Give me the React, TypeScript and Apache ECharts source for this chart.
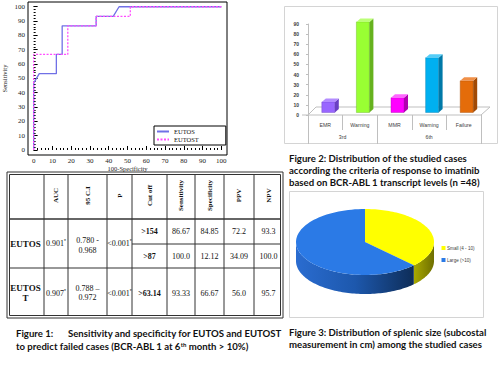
import React, { useEffect, useRef } from "react";
import * as echarts from "echarts";

// ---------- ROC curve data (100-Specificity, Sensitivity) ----------
const rocEutosX = [0, 0, 3.0, 12.1, 12.1, 15.2, 15.2, 33.3, 33.3, 42.4, 45.5, 100];
const rocEutosY = [0, 46.7, 53.3, 53.3, 66.7, 66.7, 86.7, 86.7, 93.3, 93.3, 100, 100];
const rocEutostX = [0, 0, 18.2, 18.2, 33.3, 33.3, 51.5, 51.5, 100];
const rocEutostY = [0, 66.7, 66.7, 86.7, 86.7, 93.3, 93.3, 100, 100];
const rocTickLabels = [0, 10, 20, 30, 40, 50, 60, 70, 80, 90, 100];
const rocSeriesNames = ["EUTOS", "EUTOST"];

// ---------- Bar chart data ----------
const barCategories = ["EMR", "Warning", "MMR", "Warning", "Failure"];
const barGroups = ["3rd", "6th"];
const barGroupSizes = [2, 3];
const barValues = [10.4, 89.6, 14.6, 54.2, 31.3];
const barFront = ["#9966ff", "#99ff33", "#ff00ff", "#00b0f0", "#e46c0a"];
const barSide = ["#6a3fc4", "#66b21e", "#b000b0", "#0079a8", "#a14a05"];
const barTop = ["#b38cff", "#bbff77", "#ff66ff", "#55cdf7", "#f09048"];

// ---------- Pie data ----------
const pieNames = ["Small (4 - 10)", "Large (>10)"];
const pieValues = [18, 30];
const pieTopColors = ["#ffff00", "#2b7ae6"];
const pieSideColors = [["#a9a900", "#6f6f00"], ["#2a6cd0", "#1d58ad", "#0e2d58"]];

// ---------- Table data ----------
const tableHeaders = ["", "AUC", "95 C.I", "P", "Cut off", "Sensitivity", "Specificity", "PPV", "NPV"];
const tableRowNames = ["EUTOS", "EUTOS\nT"];
const tableAuc = ["0.901", "0.907"];
const tableCi = ["0.780 -\n0.968", "0.788 –\n0.972"];
const tableP = ["<0.001", "<0.001"];
const eutosCutoffs = [">154", ">87"];
const eutosSens = ["86.67", "100.0"];
const eutosSpec = ["84.85", "12.12"];
const eutosPpv = ["72.2", "34.09"];
const eutosNpv = ["93.3", "100.0"];
const eutostCells = [">63.14", "93.33", "66.67", "56.0", "95.7"];

const serif = "'Liberation Serif', 'Times New Roman', serif";
const sans = "'Liberation Sans', Arial, sans-serif";
const capFont = "Lato, 'Open Sans', sans-serif";

function buildTable() {
  const colX = [7, 44, 68, 107, 132, 167, 195, 224, 254, 283];
  const rowY = [172, 219, 244, 268, 318];
  const line = "#333";
  const els: any[] = [];
  els.push({ type: "rect", shape: { x: 7, y: 172, width: 276, height: 146 }, style: { fill: "none", stroke: line, lineWidth: 1 } });
  els.push({ type: "rect", shape: { x: 9.5, y: 174.5, width: 271, height: 141 }, style: { fill: "none", stroke: line, lineWidth: 1 } });
  for (let i = 1; i < colX.length - 1; i++) {
    els.push({ type: "line", shape: { x1: colX[i], y1: 174.5, x2: colX[i], y2: 315.5 }, style: { stroke: line, lineWidth: 1 } });
  }
  els.push({ type: "line", shape: { x1: 9.5, y1: rowY[1], x2: 280.5, y2: rowY[1] }, style: { stroke: line, lineWidth: 1.5 } });
  els.push({ type: "line", shape: { x1: 9.5, y1: rowY[3], x2: 280.5, y2: rowY[3] }, style: { stroke: line, lineWidth: 1.2 } });
  els.push({ type: "line", shape: { x1: colX[4], y1: rowY[2], x2: 280.5, y2: rowY[2] }, style: { stroke: line, lineWidth: 1 } });
  const cx = (i: number) => (colX[i] + colX[i + 1]) / 2;
  const txt = (x: number, y: number, text: string, extra: any = {}, rot = 0) => ({
    type: "text", x, y, rotation: rot,
    style: { text, fill: "#111", fontFamily: serif, fontSize: 8, align: "center", verticalAlign: "middle", lineHeight: 9.5, rich: { s: { fontSize: 5, verticalAlign: "top" } }, ...extra },
  });
  for (let i = 1; i < tableHeaders.length; i++) {
    els.push(txt(cx(i), (rowY[0] + rowY[1]) / 2, tableHeaders[i], { fontWeight: "bold", fontSize: 7 }, Math.PI / 2));
  }
  const yE = (rowY[1] + rowY[3]) / 2;
  const yE1 = (rowY[1] + rowY[2]) / 2;
  const yE2 = (rowY[2] + rowY[3]) / 2;
  const yT = (rowY[3] + rowY[4]) / 2;
  els.push(txt(cx(0), yE, tableRowNames[0], { fontWeight: "bold", fontSize: 9 }));
  els.push(txt(cx(0), yT, tableRowNames[1], { fontWeight: "bold", fontSize: 9, lineHeight: 10.5 }));
  els.push(txt(cx(1), yE, tableAuc[0] + "{s|*}"));
  els.push(txt(cx(1), yT, tableAuc[1] + "{s|*}"));
  els.push(txt(cx(2), yE + 2, tableCi[0]));
  els.push(txt(cx(2), yT, tableCi[1]));
  els.push(txt(cx(3), yE, tableP[0] + "{s|*}"));
  els.push(txt(cx(3), yT, tableP[1] + "{s|*}"));
  const eut = [eutosCutoffs, eutosSens, eutosSpec, eutosPpv, eutosNpv];
  eut.forEach((arr, k) => {
    const extra = k === 0 ? { fontWeight: "bold" } : {};
    els.push(txt(cx(4 + k), yE1, arr[0], extra));
    els.push(txt(cx(4 + k), yE2, arr[1], extra));
  });
  eutostCells.forEach((v, k) => {
    els.push(txt(cx(4 + k), yT, v, k === 0 ? { fontWeight: "bold" } : {}));
  });
  return els;
}

function buildCaptions() {
  const base = { fill: "#111", fontFamily: capFont, fontWeight: "bold", fontSize: 9.6, align: "left", verticalAlign: "middle", rich: { sup: { fontSize: 6, verticalAlign: "top", fontWeight: "bold", fontFamily: capFont } } };
  const t = (x: number, y: number, text: string) => ({ type: "text", x, y, style: { ...base, text } });
  return [
    t(16, 333, "Figure 1:"),
    t(68, 333, "Sensitivity and specificity for EUTOS and EUTOST"),
    t(16, 346, "to predict failed cases (BCR-ABL 1 at 6{sup|th} month > 10%)"),
    t(289, 158, "Figure 2: Distribution of the studied cases"),
    t(289, 170, "according the criteria of response to imatinib"),
    t(289, 182, "based on BCR-ABL 1 transcript levels (n =48)"),
    t(289, 332, "Figure 3: Distribution of splenic size (subcostal"),
    t(289, 344, "measurement in cm) among the studied cases"),
  ];
}

function buildFrames() {
  return [
    { type: "rect", shape: { x: 284.5, y: 6.5, width: 213, height: 137 }, style: { fill: "none", stroke: "#d4d4d4", lineWidth: 1 } },
    { type: "rect", shape: { x: 289.5, y: 191.5, width: 194, height: 126 }, style: { fill: "none", stroke: "#d4d4d4", lineWidth: 1 } },
    { type: "polyline", shape: { points: [[302, 115], [481, 115], [490, 107], [316, 107], [308, 115]] }, style: { fill: "none", stroke: "#bfbfbf", lineWidth: 1 } },
  ];
}

function buildPieLegend() {
  const els: any[] = [];
  pieNames.forEach((n, i) => {
    const y = 248 + i * 12;
    els.push({ type: "rect", shape: { x: 441.5, y: y - 2, width: 4, height: 4 }, style: { fill: pieTopColors[i] } });
    els.push({ type: "text", x: 447, y, style: { text: n, fill: "#404040", fontFamily: sans, fontSize: 4.6, align: "left", verticalAlign: "middle" } });
  });
  return els;
}

function buildOption(): any {
  const total = pieValues.reduce((a, b) => a + b, 0);
  const pcx = 365, pcy = 242, prx = 69, pry = 33, thick = 19;
  const groupTicks = [0];
  const groupLabelPos: number[] = [];
  barGroupSizes.forEach((s) => {
    const last = groupTicks[groupTicks.length - 1];
    groupLabelPos.push(last + s / 2);
    groupTicks.push(last + s);
  });
  const minorTicks = Array.from({ length: 51 }, (_, i) => i * 2);
  return {
    animation: false,
    backgroundColor: "#fff",
    grid: [
      { left: 27, top: 2, width: 200, height: 153, show: true, borderColor: "#000", borderWidth: 1 },
      { left: 308, top: 24, width: 173, height: 91 },
    ],
    legend: {
      left: 154, top: 126, orient: "vertical", data: rocSeriesNames,
      borderColor: "#000", borderWidth: 1, padding: [2, 27, 2, 2], itemGap: 1,
      itemWidth: 12, itemHeight: 6,
      itemStyle: { opacity: 0 },
      textStyle: { fontFamily: serif, fontSize: 6.5, color: "#111", padding: [0, 0, 0, 0] },
    },
    xAxis: [
      {
        gridIndex: 0, type: "value", min: -3, max: 103, position: "bottom",
        axisLine: { show: false }, splitLine: { show: false },
        axisTick: { show: true, inside: true, length: 4, customValues: rocTickLabels, lineStyle: { color: "#000" } },
        axisLabel: { customValues: rocTickLabels, fontFamily: serif, fontSize: 7, color: "#222", margin: 2 },
        name: "100-Specificity", nameLocation: "middle", nameGap: 9,
        nameTextStyle: { fontFamily: serif, fontSize: 6.5, color: "#222" },
      },
      {
        gridIndex: 0, type: "value", min: -3, max: 103, position: "bottom",
        axisLine: { show: false }, splitLine: { show: false }, axisLabel: { show: false },
        axisTick: { show: true, inside: true, length: 2, customValues: minorTicks, lineStyle: { color: "#000" } },
      },
      {
        gridIndex: 1, type: "category", data: barCategories, position: "bottom",
        axisLine: { show: false },
        axisTick: { show: true, length: 15, lineStyle: { color: "#bfbfbf" } },
        axisLabel: { fontFamily: sans, fontSize: 5.2, color: "#404040", margin: 7 },
      },
      {
        gridIndex: 1, type: "value", min: 0, max: groupTicks[groupTicks.length - 1], position: "bottom",
        axisLine: { show: false }, splitLine: { show: false },
        axisTick: { show: true, length: 29, customValues: groupTicks, lineStyle: { color: "#bfbfbf" } },
        axisLabel: {
          customValues: groupLabelPos, fontFamily: sans, fontSize: 5.2, color: "#404040", margin: 19,
          formatter: (v: number) => barGroups[groupLabelPos.indexOf(v)] ?? "",
        },
      },
    ],
    yAxis: [
      {
        gridIndex: 0, type: "value", min: -3.5, max: 103.3, position: "left",
        axisLine: { show: false }, splitLine: { show: false },
        axisTick: { show: true, inside: true, length: 4, customValues: rocTickLabels, lineStyle: { color: "#000" } },
        axisLabel: { customValues: rocTickLabels, fontFamily: serif, fontSize: 7, color: "#222", margin: 3 },
        name: "Sensitivity", nameLocation: "middle", nameGap: 20, nameRotate: 90,
        nameTextStyle: { fontFamily: serif, fontSize: 6.5, color: "#222" },
      },
      {
        gridIndex: 0, type: "value", min: -3.5, max: 103.3, position: "left",
        axisLine: { show: false }, splitLine: { show: false }, axisLabel: { show: false },
        axisTick: { show: true, inside: true, length: 2, customValues: minorTicks, lineStyle: { color: "#000" } },
      },
      {
        gridIndex: 1, type: "value", min: 0, max: 90, interval: 10, offset: 6, position: "left",
        axisLine: { show: true, lineStyle: { color: "#bfbfbf" } },
        axisTick: { show: true, length: 2, lineStyle: { color: "#bfbfbf" } },
        splitLine: { show: false },
        axisLabel: { fontFamily: sans, fontSize: 5, color: "#404040", fontWeight: "bold", margin: 3 },
      },
    ],
    series: [
      {
        name: rocSeriesNames[0], type: "line", xAxisIndex: 0, yAxisIndex: 0, symbol: "none",
        data: rocEutosX.map((x, i) => [x, rocEutosY[i]]),
        lineStyle: { color: "#7070e6", width: 1.3 }, itemStyle: { color: "#7070e6" },
      },
      {
        name: rocSeriesNames[1], type: "line", xAxisIndex: 0, yAxisIndex: 0, symbol: "none",
        data: rocEutostX.map((x, i) => [x, rocEutostY[i]]),
        lineStyle: { color: "#ff4dff", width: 1.3, type: [2, 1.5] }, itemStyle: { color: "#ff4dff" },
      },
      {
        type: "custom", xAxisIndex: 2, yAxisIndex: 2,
        data: barValues.map((v, i) => [i, v]),
        encode: { x: 0, y: 1 },
        renderItem: (params: any, api: any) => {
          const i = params.dataIndex;
          const topP = api.coord([api.value(0), api.value(1)]);
          const botP = api.coord([api.value(0), 0]);
          const w = 13, dx = 4, dy = 3.5, sh = 2.5;
          const xl = topP[0] + 3 - w / 2, xr = xl + w;
          const yt = topP[1] - sh, yb = botP[1] - sh;
          return {
            type: "group",
            children: [
              { type: "rect", shape: { x: xl, y: yt, width: w, height: yb - yt }, style: { fill: barFront[i], stroke: barSide[i], lineWidth: 0.4 } },
              { type: "polygon", shape: { points: [[xr, yt], [xr + dx, yt - dy], [xr + dx, yb - dy], [xr, yb]] }, style: { fill: barSide[i] } },
              { type: "polygon", shape: { points: [[xl, yt], [xl + dx, yt - dy], [xr + dx, yt - dy], [xr, yt]] }, style: { fill: barTop[i] } },
            ],
          };
        },
      },
      {
        type: "custom", coordinateSystem: "none",
        data: pieValues.map((v, i) => [v, i]),
        renderItem: (params: any, api: any) => {
          const i = params.dataIndex;
          let start = 0;
          for (let k = 0; k < i; k++) start += pieValues[k];
          const a0 = (start / total) * Math.PI * 2;
          const a1 = ((start + api.value(0)) / total) * Math.PI * 2;
          const pt = (a: number, d = 0) => [pcx + prx * Math.sin(a), pcy - pry * Math.cos(a) + d];
          const N = 80;
          const children: any[] = [];
          const f0 = Math.max(a0, Math.PI / 2), f1 = Math.min(a1, Math.PI * 1.5);
          if (f1 > f0) {
            const up: number[][] = [], low: number[][] = [];
            for (let s = 0; s <= N; s++) {
              const a = f0 + ((f1 - f0) * s) / N;
              up.push(pt(a));
              low.unshift(pt(a, thick));
            }
            const cols = pieSideColors[i];
            children.push({
              type: "polygon", shape: { points: up.concat(low) },
              style: { fill: new echarts.graphic.LinearGradient(0, 0, 1, 0, cols.map((c, k) => ({ offset: k / (cols.length - 1), color: c }))) },
            });
          }
          const top: number[][] = [[pcx, pcy]];
          for (let s = 0; s <= N; s++) top.push(pt(a0 + ((a1 - a0) * s) / N));
          children.push({ type: "polygon", shape: { points: top }, style: { fill: pieTopColors[i] } });
          return { type: "group", children };
        },
      },
    ],
    graphic: [...buildFrames(), ...buildTable(), ...buildCaptions(), ...buildPieLegend()],
  };
}

export default function App() {
  const ref = useRef<HTMLDivElement>(null);
  useEffect(() => {
    document.body.style.margin = "0";
    const chart = echarts.init(ref.current!, null, { renderer: "svg" });
    chart.setOption(buildOption());
    return () => chart.dispose();
  }, []);
  return <div ref={ref} style={{ width: 500, height: 378 }} />;
}
